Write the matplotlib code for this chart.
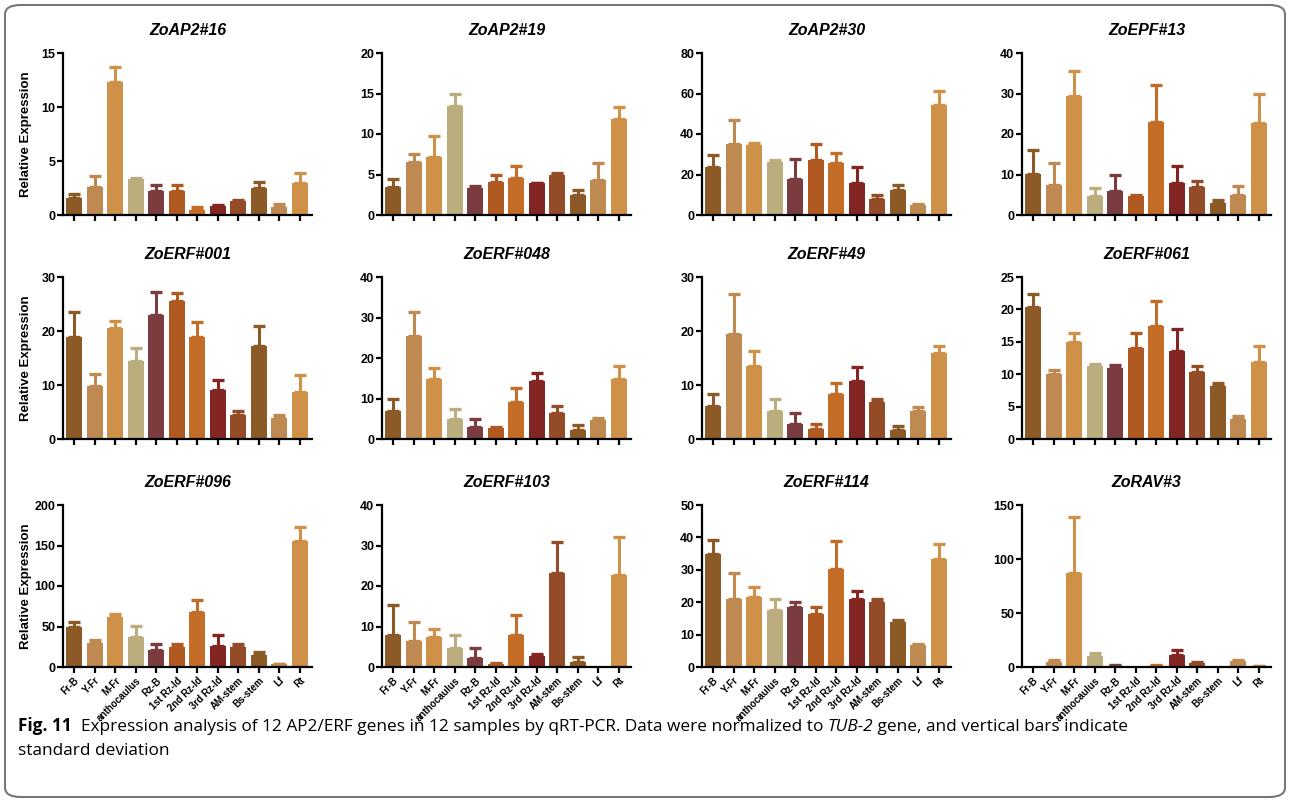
import matplotlib
matplotlib.use("Agg")
import matplotlib.pyplot as plt
from matplotlib.patches import FancyBboxPatch
import numpy as np

plt.rcParams['font.family'] = ['Liberation Sans', 'DejaVu Sans']

samples = ['Fr-B', 'Y-Fr', 'M-Fr', 'anthocaulus', 'Rz-B', '1st Rz-ld', '2nd Rz-ld',
           '3rd Rz-ld', 'AM-stem', 'Bs-stem', 'Lf', 'Rt']
colors = ['#8B5A27', '#BE8A52', '#CF9148', '#BCAD7E', '#7A3C3E', '#B05A22',
          '#C36D28', '#832522', '#934C27', '#8B5A27', '#BE8A52', '#CF9148']

genes = ['ZoAP2#16', 'ZoAP2#19', 'ZoAP2#30', 'ZoEPF#13',
         'ZoERF#001', 'ZoERF#048', 'ZoERF#49', 'ZoERF#061',
         'ZoERF#096', 'ZoERF#103', 'ZoERF#114', 'ZoRAV#3']
ymax = [15, 20, 80, 40, 30, 40, 30, 25, 200, 40, 50, 150]
ystep = [5, 5, 20, 10, 10, 10, 10, 5, 50, 10, 10, 50]

# mean values (bar heights)
means = [
    [1.6, 2.6, 12.3, 3.3, 2.2, 2.2, 0.5, 0.8, 1.3, 2.5, 0.7, 3.0],
    [3.5, 6.6, 7.1, 13.4, 3.3, 4.1, 4.6, 3.9, 5.0, 2.5, 4.3, 11.9],
    [23.5, 35.0, 34.5, 26.0, 18.0, 27.0, 25.5, 16.0, 8.0, 12.5, 5.0, 54.5],
    [10.2, 7.5, 29.3, 4.8, 6.0, 4.8, 22.9, 8.0, 6.8, 3.0, 5.0, 22.6],
    [18.8, 9.8, 20.6, 14.5, 23.0, 25.6, 18.8, 9.0, 4.4, 17.2, 3.9, 8.7],
    [7.0, 25.4, 14.8, 4.9, 2.9, 2.7, 9.1, 14.3, 6.5, 2.1, 4.7, 14.8],
    [6.2, 19.4, 13.5, 5.2, 2.7, 1.8, 8.3, 10.7, 6.8, 1.6, 5.2, 15.9],
    [20.4, 10.1, 15.0, 11.3, 11.0, 14.1, 17.5, 13.6, 10.3, 8.2, 3.1, 11.9],
    [50, 30, 62, 37, 21, 25, 68, 26, 25, 15, 3.5, 156],
    [7.8, 6.5, 7.5, 4.8, 2.3, 0.8, 7.8, 2.8, 23.1, 1.3, 0.3, 22.6],
    [35.0, 20.9, 21.5, 17.5, 18.4, 16.5, 30.4, 20.9, 20.2, 14.0, 6.7, 33.2],
    [1.0, 5.0, 87, 10, 1.0, 1.0, 1.2, 11.5, 3.5, 1.0, 6.0, 0.8],
]
# top of error bar
tops = [
    [1.9, 3.6, 13.7, 3.4, 2.8, 2.8, 0.7, 0.9, 1.35, 3.1, 1.0, 3.9],
    [4.4, 7.5, 9.8, 15.0, 3.6, 4.9, 6.0, 4.0, 5.2, 3.1, 6.4, 13.3],
    [29.6, 47.0, 35.5, 27.3, 27.5, 35.0, 30.5, 23.5, 10.0, 14.7, 5.5, 61.0],
    [16.0, 12.8, 35.5, 6.6, 10.0, 5.0, 32.0, 12.0, 8.3, 3.6, 7.1, 30.0],
    [23.6, 12.0, 21.8, 16.8, 27.3, 27.1, 21.6, 11.0, 5.2, 20.9, 4.4, 11.8],
    [10.0, 31.4, 17.6, 7.4, 5.0, 3.0, 12.6, 16.3, 8.2, 3.4, 5.2, 18.1],
    [8.3, 26.9, 16.3, 7.4, 4.9, 2.7, 10.3, 13.3, 7.5, 2.5, 5.9, 17.2],
    [22.4, 10.6, 16.4, 11.5, 11.4, 16.4, 21.3, 17.0, 11.2, 8.6, 3.6, 14.4],
    [56, 33, 65, 51, 28, 28, 83, 39, 29, 18, 4, 173],
    [15.4, 11.0, 9.5, 8.0, 4.6, 1.1, 12.8, 3.2, 30.8, 2.4, 0.3, 32.0],
    [39.3, 29.0, 24.6, 21.0, 20.0, 18.4, 38.8, 23.4, 21.0, 14.6, 7.2, 38.0],
    [1.0, 6.5, 139, 13, 2.0, 1.0, 2.0, 15.5, 4.5, 1.0, 6.5, 1.0],
]

W, H = 1290, 802
fig = plt.figure(figsize=(W / 100, H / 100), dpi=100)

# rounded frame around panels and caption
frame = FancyBboxPatch((5 / W, 5 / H), 1280 / W, 792 / H,
                       boxstyle="round,pad=0,rounding_size=0.012",
                       transform=fig.transFigure, fill=False,
                       edgecolor='#777777', linewidth=1.5)
fig.patches.append(frame)

col_left = [63, 382, 702, 1022]
col_w = 249
row_top = [53, 277, 505]
row_h = 162

x = np.arange(len(samples))
for k, gene in enumerate(genes):
    r, c = divmod(k, 4)
    ax = fig.add_axes([col_left[c] / W, 1 - (row_top[r] + row_h) / H, col_w / W, row_h / H])
    m = np.array(means[k])
    sd = np.array(tops[k]) - m
    ax.bar(x, m, width=0.8, color=colors, zorder=2)
    for i in range(len(x)):
        if sd[i] > 0:
            ax.errorbar(x[i], m[i], yerr=[[0], [sd[i]]], fmt='none', ecolor=colors[i],
                        elinewidth=2.2, capsize=4, capthick=2.4, zorder=1)
    ax.set_xlim(-0.55, 11.6)
    ax.set_ylim(0, ymax[k])
    ax.set_yticks(np.arange(0, ymax[k] + 1e-9, ystep[k]))
    ax.set_xticks(x)
    if r == 2:
        ax.set_xticklabels(samples, rotation=45, ha='right', rotation_mode='anchor',
                           fontsize=7, fontweight='bold')
    else:
        ax.set_xticklabels([])
    for lab in ax.get_yticklabels():
        lab.set_fontweight('bold')
        lab.set_fontsize(9)
    for s in ['top', 'right']:
        ax.spines[s].set_visible(False)
    for s in ['left', 'bottom']:
        ax.spines[s].set_linewidth(1.6)
    ax.tick_params(axis='both', width=1.6, length=4, pad=1.5)
    ax.tick_params(axis='x', pad=2)
    ax.set_title(gene, fontsize=11.5, fontweight='bold', fontstyle='italic', pad=13)
    if c == 0:
        ax.set_ylabel('Relative Expression', fontsize=9.5, fontweight='bold')
        ax.yaxis.set_label_coords(-0.125, 0.5)

# caption, built from pieces so that parts can be bold / italic
cap_font = ['Open Sans', 'DejaVu Sans']
renderer = fig.canvas.get_renderer()

def put_line(pieces, x0, y0):
    xx = x0
    for txt, kw in pieces:
        t = fig.text(xx / W, 1 - y0 / H, txt, fontsize=12.4, family=cap_font,
                     va='baseline', ha='left', **kw)
        bb = t.get_window_extent(renderer=renderer)
        xx += bb.width

put_line([('Fig. 11', {'fontweight': 'bold'}),
          ('  Expression analysis of 12 AP2/ERF genes in 12 samples by qRT-PCR. '
           'Data were normalized to ', {}),
          ('TUB-2', {'fontstyle': 'italic'}),
          (' gene, and vertical bars indicate', {})], 18, 731)
put_line([('standard deviation', {})], 18, 755)

fig.savefig('out.png', dpi=100)
